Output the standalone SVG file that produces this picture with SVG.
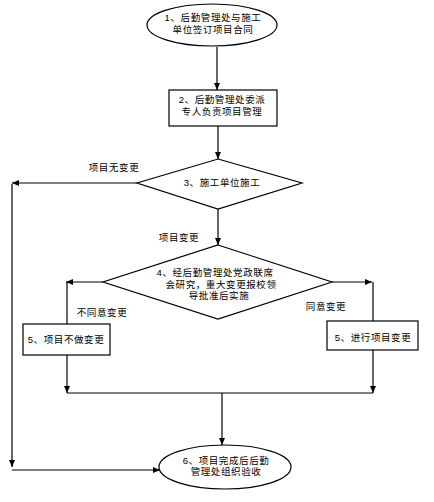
<svg xmlns="http://www.w3.org/2000/svg" width="434" height="502" viewBox="0 0 434 502">
<style>
.s{fill:#fff;stroke:#000;stroke-width:1.2}
.c{fill:none;stroke:#000;stroke-width:1.2}
text{font-family:"Liberation Sans","Noto Sans CJK SC",sans-serif;font-size:9.5px;letter-spacing:0.6px;fill:#000;text-anchor:middle}
.l{text-anchor:start}
</style>
<defs>
<marker id="a" markerWidth="7" markerHeight="6" refX="7" refY="3" orient="auto" markerUnits="userSpaceOnUse">
<path d="M0,0 L7,3 L0,6 Z" fill="#000"/>
</marker>
</defs>
<rect width="434" height="502" fill="#fff"/>
<g id="connectors">
<path class="c" d="M217,47 V90" marker-end="url(#a)"/>
<path class="c" d="M218,126 V159" marker-end="url(#a)"/>
<path class="c" d="M137,183 H12" marker-end="url(#a)"/>
<path class="c" d="M12,184 V467" marker-end="url(#a)"/>
<path class="c" d="M12,470 H160" marker-end="url(#a)"/>
<path class="c" d="M218,209 V245" marker-end="url(#a)"/>
<path class="c" d="M103,282 H66" marker-end="url(#a)"/>
<path class="c" d="M67,282 V324"/>
<path class="c" d="M332,282 H372" marker-end="url(#a)"/>
<path class="c" d="M373,282 V321"/>
<path class="c" d="M67,355 V393" marker-end="url(#a)"/>
<path class="c" d="M373,350 V393" marker-end="url(#a)"/>
<path class="c" d="M67,393 H373"/>
<path class="c" d="M222,393 V445" marker-end="url(#a)"/>
</g>
<g id="labels">
<text x="114" y="171">项目无变更</text>
<text x="179" y="241">项目变更</text>
<text x="102" y="316">不同意变更</text>
<text x="326" y="310">同意变更</text>
</g>
<g id="n1">
<ellipse class="s" cx="212" cy="25" rx="65" ry="21"/>
<text x="213" y="21">1、后勤管理处与施工</text>
<text x="213" y="33">单位签订项目合同</text>
</g>
<g id="n2">
<rect class="s" x="169" y="90" width="108" height="36"/>
<text x="222" y="103">2、后勤管理处委派</text>
<text x="222" y="115">专人负责项目管理</text>
</g>
<g id="n3">
<polygon class="s" points="218,159 302,183 218,209 137,183"/>
<text x="222" y="186">3、施工单位施工</text>
</g>
<g id="n4">
<polygon class="s" points="218,245 332,282 218,319 103,282"/>
<text x="215" y="276">4、经后勤管理处党政联席</text>
<text x="221" y="288">会研究，重大变更报校领</text>
<text x="219" y="299">导批准后实施</text>
</g>
<g id="n5a">
<rect class="s" x="23" y="324" width="87" height="31"/>
<text x="66" y="343">5、项目不做变更</text>
</g>
<g id="n5b">
<rect class="s" x="327" y="321" width="91" height="29"/>
<text x="373" y="341">5、进行项目变更</text>
</g>
<g id="n6">
<ellipse class="s" cx="225" cy="467" rx="66" ry="22"/>
<text x="226" y="464">6、项目完成后后勤</text>
<text x="226" y="475">管理处组织验收</text>
</g>
</svg>
